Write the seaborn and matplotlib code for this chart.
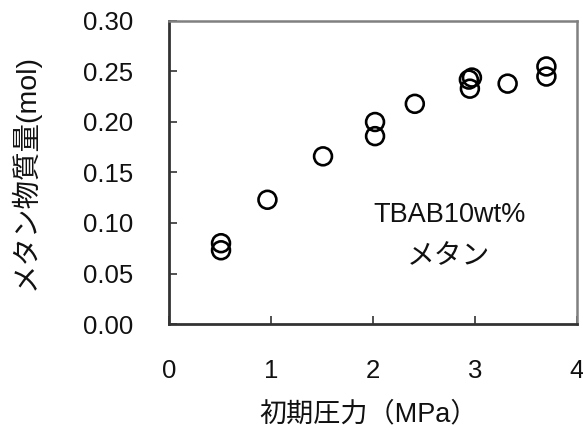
import matplotlib
matplotlib.use("Agg")
import matplotlib.pyplot as plt
import seaborn as sns
import pandas as pd

# Data
pressure = [0.51, 0.51, 0.965, 1.51, 2.02, 2.02, 2.41, 2.94, 2.97, 2.95, 3.32, 3.70, 3.70]
methane = [0.080, 0.073, 0.123, 0.166, 0.200, 0.186, 0.218, 0.242, 0.244, 0.233, 0.238, 0.255, 0.245]
x_ticks = [0, 1, 2, 3, 4]
y_ticks = [0.00, 0.05, 0.10, 0.15, 0.20, 0.25, 0.30]
y_tick_labels = ["0.00", "0.05", "0.10", "0.15", "0.20", "0.25", "0.30"]
x_label = "初期圧力（MPa）"
y_label = "メタン物質量(mol)"
annot_1 = "TBAB10wt%"
annot_2 = "メタン"

sns.set_style("white")
plt.rcParams["font.family"] = ["Liberation Sans", "Noto Sans CJK JP", "DejaVu Sans"]

df = pd.DataFrame({"pressure": pressure, "methane": methane})

fig = plt.figure(figsize=(5.83, 4.30), dpi=100)
ax = fig.add_axes([169 / 583, 1 - 324 / 430, 408 / 583, 303 / 430])

sns.scatterplot(data=df, x="pressure", y="methane", ax=ax, marker="o", s=165,
                facecolor="none", edgecolor="black", linewidth=1.9, legend=False)

ax.set_xlim(0, 4)
ax.set_ylim(0, 0.30)
ax.set_xticks(x_ticks)
ax.set_xticklabels([str(t) for t in x_ticks])
ax.set_yticks(y_ticks)
ax.set_yticklabels(y_tick_labels)

ax.tick_params(axis="both", direction="in", length=6, width=1.2, color="#333333",
               labelsize=18.5, labelcolor="#111111")
ax.tick_params(axis="x", pad=25)
ax.tick_params(axis="y", pad=26)
ax.tick_params(top=False, right=False, bottom=True, left=True)

for side in ["left", "bottom"]:
    ax.spines[side].set_color("#333333")
    ax.spines[side].set_linewidth(2.0)
for side in ["top", "right"]:
    ax.spines[side].set_color("#808080")
    ax.spines[side].set_linewidth(1.8)
    ax.spines[side].set_visible(True)

ax.set_xlabel(x_label, fontsize=19.5, color="#111111", va="center")
ax.set_ylabel(y_label, fontsize=20.5, color="#111111", va="center")
ax.xaxis.set_label_coords(0.49, -0.30)
ax.yaxis.set_label_coords(-0.353, 0.5)

ax.text(2.755, 0.108, annot_1, fontsize=19.5, ha="center", va="center", color="#111111")
ax.text(2.74, 0.066, annot_2, fontsize=20, ha="center", va="center", color="#111111")

fig.savefig("out.png", dpi=100)
